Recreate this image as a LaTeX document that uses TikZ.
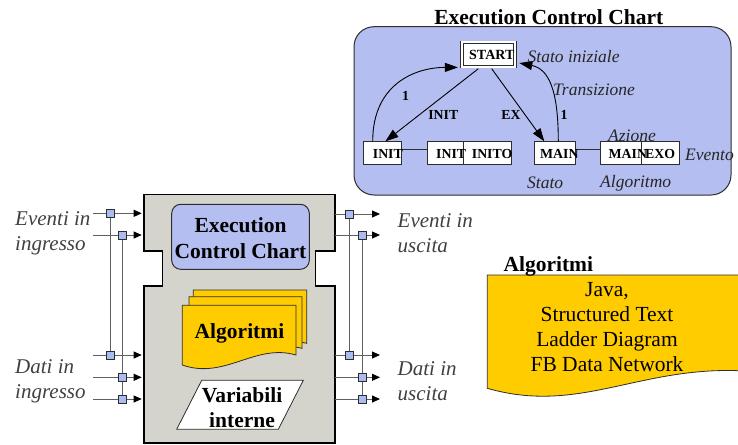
\documentclass[tikz,border=0pt]{standalone}
\usepackage{fontspec}
\setmainfont{Liberation Serif}
\usetikzlibrary{arrows.meta}
\definecolor{eccblue}{RGB}{180,190,240}
\definecolor{portblue}{RGB}{170,188,240}
\definecolor{blockgray}{RGB}{212,212,205}
\definecolor{docyellow}{RGB}{255,204,0}
\definecolor{wiregray}{RGB}{95,95,95}
\definecolor{labelgray}{RGB}{64,64,64}
\definecolor{edgegray}{RGB}{45,45,45}
\begin{document}
\begin{tikzpicture}[x=1pt,y=-1pt,
  lbl/.style={font=\fontsize{21}{25}\selectfont\itshape, text=labelgray, align=left, inner sep=0},
  bigtxt/.style={font=\fontsize{21.5}{26}\selectfont\bfseries, align=center, inner sep=0},
  plaintxt/.style={font=\fontsize{21.5}{25}\selectfont, align=center, inner sep=0},
  etxt/.style={font=\fontsize{13.8}{16}\selectfont\bfseries, inner sep=0},
  eital/.style={font=\fontsize{17.5}{20}\selectfont\itshape, text=black!85, inner sep=0},
  ebox/.style={draw=edgegray, fill=white, line width=0.8pt, minimum height=22.6pt, inner sep=0},
  ewire/.style={draw=edgegray, line width=0.9pt},
  earrow/.style={draw=black, line width=0.9pt, -{Triangle[length=13pt,width=9pt]}},
  wire/.style={draw=wiregray, line width=0.8pt},
  port/.style={draw=wiregray, line width=0.8pt, -{Triangle[length=8pt,width=7pt,color=black]}},
  sq/.style={draw=edgegray, fill=portblue, line width=0.6pt, minimum size=8pt, inner sep=0},
  doc/.style={draw=edgegray, fill=docyellow, line width=0.8pt}]
\useasboundingbox (0,0) rectangle (738,444);
\clip (0,0) rectangle (738,444);

% ---------- Execution Control Chart (detail) ----------
\node[font=\fontsize{21.5}{24}\selectfont\bfseries, inner sep=0] (ecctitle) at (548.8,17.5) {Execution Control Chart};
\draw[draw=edgegray, fill=eccblue, line width=1pt, rounded corners=20pt] (354,26.7) rectangle (731,195);

\node[draw=edgegray, fill=white, double, double distance=2pt, line width=0.8pt,
      minimum width=53.1pt, minimum height=24pt, inner sep=0] (start) at (488.35,54.5) {};
\node[etxt, font=\fontsize{14}{16}\selectfont\bfseries, anchor=west] (tstart) at (469,55) {START};

\node[ebox, minimum width=38.4pt] (sinit) at (382.5,153) {};
\node[ebox, minimum width=35.6pt] (ainit) at (445.5,153) {};
\node[ebox, minimum width=47.7pt] (ainito) at (487.15,153) {};
\node[ebox, minimum width=41.4pt] (smain) at (555,153) {};
\node[ebox, minimum width=41.7pt] (amain) at (620.85,153) {};
\node[ebox, minimum width=37.6pt] (aexo) at (660.5,153) {};

\draw[ewire] ([yshift=3.7pt]sinit.east) -- ([yshift=3.7pt]ainit.west);
\draw[ewire] ([yshift=3.7pt]smain.east) -- ([yshift=3.7pt]amain.west);

\node[etxt, anchor=west] (tsinit) at (372.7,153.5) {INIT};
\node[etxt, anchor=west] (tainit) at (436,153.5) {INIT};
\node[etxt, anchor=west] (tainito) at (471.7,153.5) {INITO};
\node[etxt, anchor=west] (tsmain) at (540,153.5) {MAIN};
\node[etxt, anchor=west] (tamain) at (608.5,153.5) {MAIN};
\node[etxt, anchor=west] (taexo) at (645,153.5) {EXO};

\draw[earrow] ([xshift=-10pt,yshift=-1.8pt]start.south) -- ([xshift=-16.7pt]sinit.north east);
\draw[earrow] ([xshift=3.3pt,yshift=-1.8pt]start.south) -- ([xshift=-10.7pt]smain.north);
\draw[earrow] ([xshift=-9.8pt]sinit.north) .. controls +(0,-57) and +(-43,0) .. ([xshift=-3.5pt,yshift=-0.5pt]start.south west);
\draw[earrow] ([xshift=3.3pt]smain.north) .. controls +(0,-50) and +(30,6) .. ([xshift=4pt,yshift=-8.5pt]start.east);

\node[etxt] (linit) at (443.3,115) {INIT};
\node[etxt] (lex) at (511,115) {EX};
\node[etxt] (lone1) at (405.5,95.7) {1};
\node[etxt] (lone2) at (564,115) {1};

\node[eital, anchor=west] (lstatoiniz) at (527.5,57) {Stato iniziale};
\node[eital, anchor=west] (ltrans) at (553,90) {Transizione};
\node[eital, anchor=west] (lazione) at (608,135.5) {Azione};
\node[eital, anchor=west] (levento) at (685,155) {Evento};
\node[eital, anchor=west] (lstato) at (527,183) {Stato};
\node[eital, anchor=west] (lalgo) at (600,183) {Algoritmo};

% ---------- Function block ----------
\draw[draw=black, fill=blockgray, line width=1.5pt]
  (144,194.3) -- (335,194.3) -- (335,251) -- (315.7,251) -- (315.7,286) -- (335,286)
  -- (335,443) -- (144,443) -- (144,286) -- (162.7,286) -- (162.7,251) -- (144,251) -- cycle;

\draw[draw=edgegray, fill=eccblue, line width=1pt, rounded corners=9pt] (171.7,204.3) rectangle (309.3,269.3);
\node[bigtxt] (eccin) at (240.5,238.5) {Execution\\Control Chart};

% stacked algorithm sheets
\draw[doc] (193.3,290) -- (306.7,290) -- (306.7,343.3) .. controls (265,333) and (235,365) .. (193.3,352) -- cycle;
\draw[doc] (189,296.7) -- (302,296.7) -- (302,348.3) .. controls (260,338) and (230,372) .. (189,358) -- cycle;
\draw[doc] (182.3,305.3) -- (296,305.3) -- (296,355) .. controls (255,343) and (225,380) .. (182.3,365) -- cycle;
\node[bigtxt] (algin) at (239.5,333.5) {Algoritmi};

% internal variables
\draw[draw=edgegray, fill=white, line width=0.8pt]
  (201.7,380.3) -- (303.3,380.3) -- (278.3,429.3) -- (176.7,429.3) -- cycle;
\node[bigtxt, font=\fontsize{21.5}{25}\selectfont\bfseries] (varint) at (242,408) {Variabili\\interne};

% ---------- input ports ----------
\coordinate (ie1) at (110,213.3);
\coordinate (ie2) at (122.7,235);
\coordinate (id1) at (110,355);
\coordinate (id2) at (122.7,377.3);
\coordinate (id3) at (122.7,399);
\coordinate (ie1s) at (93.3,213.3);  \coordinate (ie1e) at (141.7,213.3);
\coordinate (ie2s) at (93.3,235);    \coordinate (ie2e) at (141.7,235);
\coordinate (id1s) at (93.3,355);    \coordinate (id1e) at (141.7,355);
\coordinate (id2s) at (93.3,377.3);  \coordinate (id2e) at (141.7,377.3);
\coordinate (id3s) at (93.3,399);    \coordinate (id3e) at (141.7,399);
\draw[wire] (ie1) -- (id1);
\draw[wire] (ie2) -- (id3);
\draw[port] (ie1s) -- (ie1e);
\draw[port] (ie2s) -- (ie2e);
\draw[port] (id1s) -- (id1e);
\draw[port] (id2s) -- (id2e);
\draw[port] (id3s) -- (id3e);
\node[sq] (sqie1) at (ie1) {};
\node[sq] (sqie2) at (ie2) {};
\node[sq] (sqid1) at (id1) {};
\node[sq] (sqid2) at (id2) {};
\node[sq] (sqid3) at (id3) {};

% ---------- output ports ----------
\coordinate (oe1) at (349.3,214);
\coordinate (oe2) at (362.3,235);
\coordinate (od1) at (349.3,355);
\coordinate (od2) at (362.3,377.3);
\coordinate (od3) at (362.3,399);
\coordinate (oe1s) at (335,214);    \coordinate (oe1e) at (380,214);
\coordinate (oe2s) at (335,235);    \coordinate (oe2e) at (380,235);
\coordinate (od1s) at (335,355);    \coordinate (od1e) at (380,355);
\coordinate (od2s) at (335,377.3);  \coordinate (od2e) at (380,377.3);
\coordinate (od3s) at (335,399);    \coordinate (od3e) at (380,399);
\draw[wire] (oe1) -- (od1);
\draw[wire] (oe2) -- (od3);
\draw[port] (oe1s) -- (oe1e);
\draw[port] (oe2s) -- (oe2e);
\draw[port] (od1s) -- (od1e);
\draw[port] (od2s) -- (od2e);
\draw[port] (od3s) -- (od3e);
\node[sq] (sqoe1) at (oe1) {};
\node[sq] (sqoe2) at (oe2) {};
\node[sq] (sqod1) at (od1) {};
\node[sq] (sqod2) at (od2) {};
\node[sq] (sqod3) at (od3) {};

% ---------- port labels ----------
\node[lbl, anchor=west] (levin) at (15,233) {Eventi in\\ingresso};
\node[lbl, anchor=west] (ldin) at (15,381) {Dati in\\ingresso};
\node[lbl, anchor=west] (levout) at (397.5,233) {Eventi in\\uscita};
\node[lbl, anchor=west] (ldout) at (397.5,381) {Dati in\\uscita};

% ---------- algorithm languages ----------
\draw[doc] (487.3,275) -- (745,275) -- (745,371) .. controls (640,365) and (580,415) .. (487.3,388.3) -- cycle;
\node[font=\fontsize{21.5}{24}\selectfont\bfseries, anchor=west, inner sep=0] (algtitle) at (503.3,266.5) {Algoritmi};
\node[plaintxt] (langs) at (607,327) {Java,\\Structured Text\\Ladder Diagram\\FB Data Network};
\end{tikzpicture}
\end{document}
